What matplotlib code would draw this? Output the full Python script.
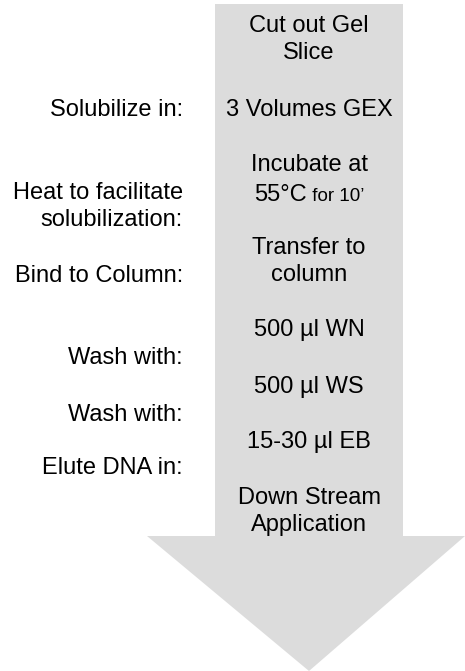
import matplotlib.pyplot as plt
from matplotlib.patches import Polygon

plt.rcParams['font.family'] = ['Liberation Sans', 'DejaVu Sans']

# step texts inside the arrow (one entry per line)
step_lines = ["Cut out Gel", "Slice", "3 Volumes GEX", "Incubate at", None,
              "Transfer to", "column", "500 µl WN", "500 µl WS", "15-30 µl EB",
              "Down Stream", "Application"]
step_y = [26, 53, 110, 165, 193, 248, 275, 330, 387, 442, 498, 525]

# action texts on the left
action_lines = ["Solubilize in:", "Heat to facilitate", "solubilization:",
                "Bind to Column:", "Wash with:", "Wash with:", "Elute DNA in:"]
action_y = [110, 193, 220, 276, 358, 415, 468]

W, H = 465, 671
fig = plt.figure(figsize=(W / 100, H / 100), dpi=100)
ax = fig.add_axes([0, 0, 1, 1])
ax.set_xlim(0, W)
ax.set_ylim(H, 0)
ax.axis('off')

grey = '#dcdcdc'
arrow = [(215, 4), (403, 4), (403, 536), (465, 536), (309, 671),
         (147, 536), (215, 536)]
ax.add_patch(Polygon(arrow, closed=True, facecolor=grey, edgecolor='none'))

cx = 309
fs = 17
for txt, y in zip(step_lines, step_y):
    if txt is None:
        continue
    ax.text(cx, y, txt, ha='center', va='center', fontsize=fs)

# mixed size line "55°C for 10’"
fig.canvas.draw()
r = fig.canvas.get_renderer()
t1 = ax.text(0, 0, "55°C", fontsize=fs, va='baseline')
t2 = ax.text(0, 0, " for 10’", fontsize=13.5, va='baseline')
w1 = t1.get_window_extent(r).width
w2 = t2.get_window_extent(r).width
x0 = cx - (w1 + w2) / 2
t1.set_position((x0, step_y[4] + 8))
t2.set_position((x0 + w1, step_y[4] + 8))

for txt, y in zip(action_lines, action_y):
    ax.text(183, y, txt, ha='right', va='center', fontsize=fs)

fig.savefig('out.png', dpi=100)
